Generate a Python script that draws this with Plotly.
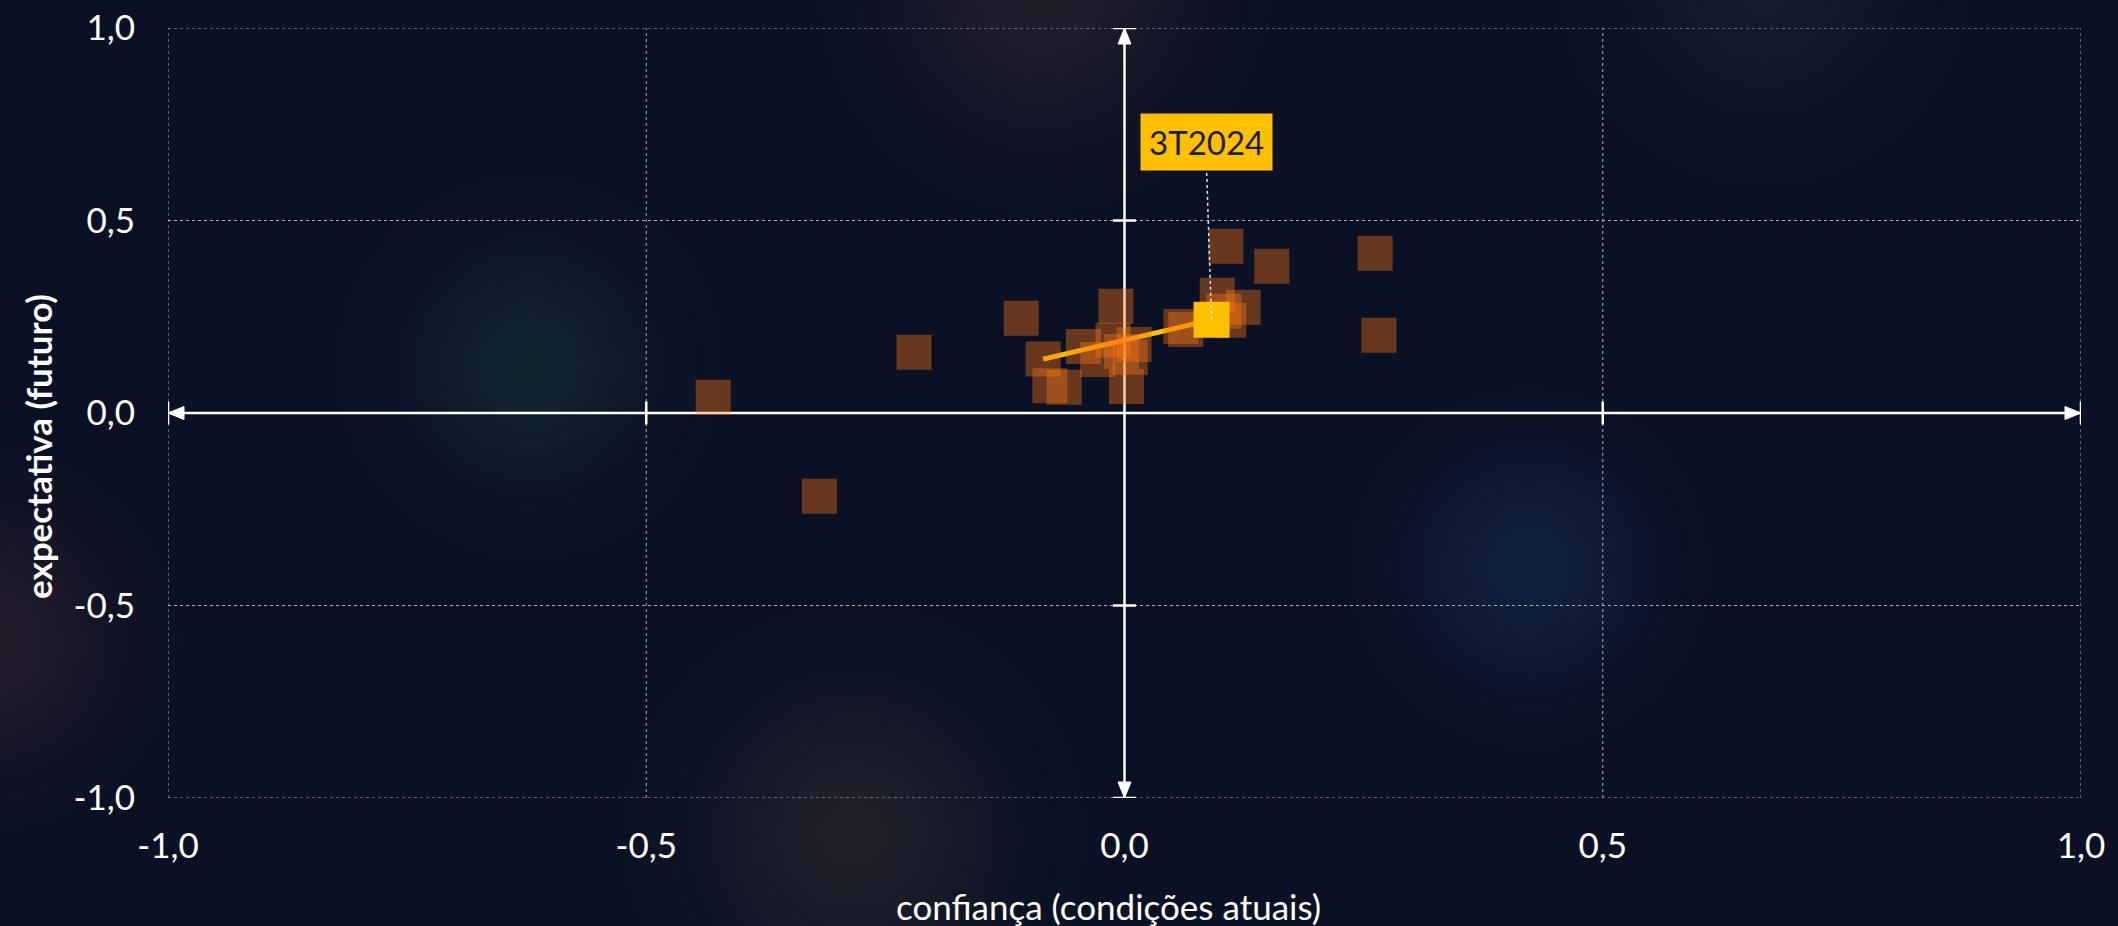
import base64
import struct
import zlib

import numpy as np
import plotly.graph_objects as go

# ---------------- data ----------------
hist_x = [0.106, 0.154, 0.262, 0.266, 0.097, 0.124, 0.104, 0.109, 0.059, 0.064,
          -0.108, -0.009, -0.078, -0.063, -0.043, -0.028, -0.012, -0.003, 0.010,
          0.006, 0.002, -0.220, -0.430, -0.319, -0.085]
hist_y = [0.433, 0.381, 0.415, 0.202, 0.306, 0.275, 0.264, 0.241, 0.225, 0.217,
          0.246, 0.277, 0.071, 0.067, 0.173, 0.139, 0.189, 0.160, 0.178,
          0.145, 0.069, 0.158, 0.041, -0.216, 0.140]
current_label = "3T2024"
current_x = [0.091]
current_y = [0.242]

tick_vals = [-1.0, -0.5, 0.0, 0.5, 1.0]
tick_text = ["-1,0", "-0,5", "0,0", "0,5", "1,0"]

x_title = "confiança (condições atuais)"
y_title = "expectativa (futuro)"

# ---------------- style ----------------
BG_RGB = (10, 17, 36)
BG = "#0A1124"
FONT = "Lato"
WHITE = "#FFFFFF"
GRID = "#A8ABB3"
HIST_COLOR = "rgba(255,120,20,0.38)"
CUR_COLOR = "#FFC000"

L, R, T, B = 168, 37, 28, 128
W, H = 2118, 926
pw, ph = W - L - R, H - T - B


def paper_x(px):
    return (px - L) / pw


def paper_y(py):
    return (H - B - py) / ph


# ---------------- soft background glows (decorative image) ----------------
def make_png(rgb):
    h, w, _ = rgb.shape
    raw = b"".join(b"\x00" + rgb[r].tobytes() for r in range(h))

    def chunk(tag, data):
        c = struct.pack(">I", len(data)) + tag + data
        return c + struct.pack(">I", zlib.crc32(tag + data) & 0xFFFFFFFF)

    png = b"\x89PNG\r\n\x1a\n"
    png += chunk(b"IHDR", struct.pack(">IIBBBBB", w, h, 8, 2, 0, 0, 0))
    png += chunk(b"IDAT", zlib.compress(raw, 9))
    png += chunk(b"IEND", b"")
    return png


SC = 4
gw, gh = W // SC, H // SC + 1
yy, xx = np.mgrid[0:gh, 0:gw].astype(float) * SC
img = np.zeros((gh, gw, 3)) + np.array(BG_RGB, dtype=float)
glows = [
    (527, 365, 80, (10, 20, 12)),
    (1526, 567, 78, (9, 16, 28)),
    (850, 835, 100, (22, 16, 8)),
    (1040, -15, 100, (24, 14, 8)),
    (-15, 640, 85, (28, 12, 8)),
    (1760, -25, 95, (12, 12, 12)),
]
for gx, gy, sig, delta in glows:
    g = np.exp(-((xx - gx) ** 2 + (yy - gy) ** 2) / (2 * sig ** 2))
    img += g[..., None] * np.array(delta, dtype=float)
img = np.clip(img, 0, 255).astype(np.uint8)
bg_uri = "data:image/png;base64," + base64.b64encode(make_png(img)).decode()

fig = go.Figure()

# trail from previous quarter to current (drawn below the squares)
fig.add_trace(go.Scatter(
    x=[hist_x[-1], current_x[0]], y=[hist_y[-1], current_y[0]],
    mode="lines", line=dict(color=CUR_COLOR, width=5),
    hoverinfo="skip", showlegend=False))

fig.add_trace(go.Scatter(
    x=hist_x, y=hist_y, mode="markers",
    marker=dict(symbol="square", size=35, color=HIST_COLOR, line=dict(width=0)),
    showlegend=False))

fig.add_trace(go.Scatter(
    x=current_x, y=current_y, mode="markers",
    marker=dict(symbol="square", size=36, color=CUR_COLOR, line=dict(width=0)),
    showlegend=False))

shapes = []

# dotted grid lines and border
for v in tick_vals:
    if v == 0:
        continue
    shapes.append(dict(type="line", xref="x", yref="y", x0=v, x1=v,
                       y0=tick_vals[0], y1=tick_vals[-1],
                       line=dict(color=GRID, width=1, dash="dot"), layer="below"))
    shapes.append(dict(type="line", xref="x", yref="y", y0=v, y1=v,
                       x0=tick_vals[0], x1=tick_vals[-1],
                       line=dict(color=GRID, width=1, dash="dot"), layer="below"))

# central axes (white, with arrows both ends)
AX_W = 2.5
shapes.append(dict(type="line", xref="x", yref="y", x0=-1, x1=1, y0=0, y1=0,
                   line=dict(color=WHITE, width=AX_W), layer="below"))
shapes.append(dict(type="line", xref="x", yref="y", x0=0, x1=0, y0=-1, y1=1,
                   line=dict(color=WHITE, width=AX_W), layer="below"))

# cross bars at ends and at +/-0.5
for v in tick_vals:
    if v == 0:
        continue
    shapes.append(dict(type="line", xref="x", yref="y",
                       xsizemode="pixel", ysizemode="pixel",
                       xanchor=v, yanchor=0, x0=0, x1=0, y0=-11.5, y1=11.5,
                       line=dict(color=WHITE, width=AX_W), layer="below"))
    shapes.append(dict(type="line", xref="x", yref="y",
                       xsizemode="pixel", ysizemode="pixel",
                       xanchor=0, yanchor=v, x0=-11.5, x1=11.5, y0=0, y1=0,
                       line=dict(color=WHITE, width=AX_W), layer="below"))

# arrowheads
arrow_paths = [
    (-1, 0, "M 0 0 L 16 6.5 L 16 -6.5 Z"),
    (1, 0, "M 0 0 L -16 6.5 L -16 -6.5 Z"),
    (0, 1, "M 0 0 L -6.5 -16 L 6.5 -16 Z"),
    (0, -1, "M 0 0 L -6.5 16 L 6.5 16 Z"),
]
for ax_, ay_, p in arrow_paths:
    shapes.append(dict(type="path", xref="x", yref="y",
                       xsizemode="pixel", ysizemode="pixel",
                       xanchor=ax_, yanchor=ay_, path=p,
                       fillcolor=WHITE, line=dict(color=WHITE, width=1),
                       layer="below"))

# leader line from label to current point
shapes.append(dict(type="line", xref="x", yref="y",
                   xsizemode="pixel", ysizemode="pixel",
                   xanchor=current_x[0], yanchor=current_y[0],
                   x0=0, y0=0, x1=-5, y1=151,
                   line=dict(color="#E8E8E8", width=1.5, dash="dot"),
                   layer="above"))

annotations = [
    dict(x=current_x[0], y=current_y[0], xref="x", yref="y",
         text=current_label, showarrow=False, xshift=-5, yshift=178,
         bgcolor=CUR_COLOR, borderpad=8,
         font=dict(family=FONT, size=33, color="#1B2030")),
    dict(x=paper_x(1108), y=paper_y(906), xref="paper", yref="paper",
         text=x_title, showarrow=False, xanchor="center", yanchor="middle",
         font=dict(family=FONT, size=35, color=WHITE)),
    dict(x=paper_x(38), y=paper_y(447), xref="paper", yref="paper",
         text=f"<b>{y_title}</b>", showarrow=False, textangle=-90,
         xanchor="center", yanchor="middle",
         font=dict(family=FONT, size=35, color=WHITE)),
]

axis_common = dict(
    range=[tick_vals[0], tick_vals[-1]], tickvals=tick_vals, ticktext=tick_text,
    showgrid=False, zeroline=False, showline=False, fixedrange=True,
    automargin=False,
    tickfont=dict(family=FONT, size=35, color=WHITE), ticks="",
)

fig.update_layout(
    width=W, height=H,
    paper_bgcolor=BG, plot_bgcolor="rgba(0,0,0,0)",
    margin=dict(l=L, r=R, t=T, b=B, pad=0, autoexpand=False),
    xaxis=dict(**axis_common, ticklabelstandoff=24),
    yaxis=dict(**axis_common, ticklabelstandoff=32),
    shapes=shapes, annotations=annotations,
    images=[dict(source=bg_uri, xref="paper", yref="paper",
                 x=paper_x(0), y=paper_y(0),
                 sizex=W / pw, sizey=H / ph, sizing="stretch",
                 xanchor="left", yanchor="top", layer="below")],
    showlegend=False, hovermode=False,
)

fig.write_html(
    "out.html",
    config={"displayModeBar": False},
    post_script="document.body.style.margin='0px';"
                "document.body.style.overflow='hidden';"
                "document.body.style.background='" + BG + "';",
)
